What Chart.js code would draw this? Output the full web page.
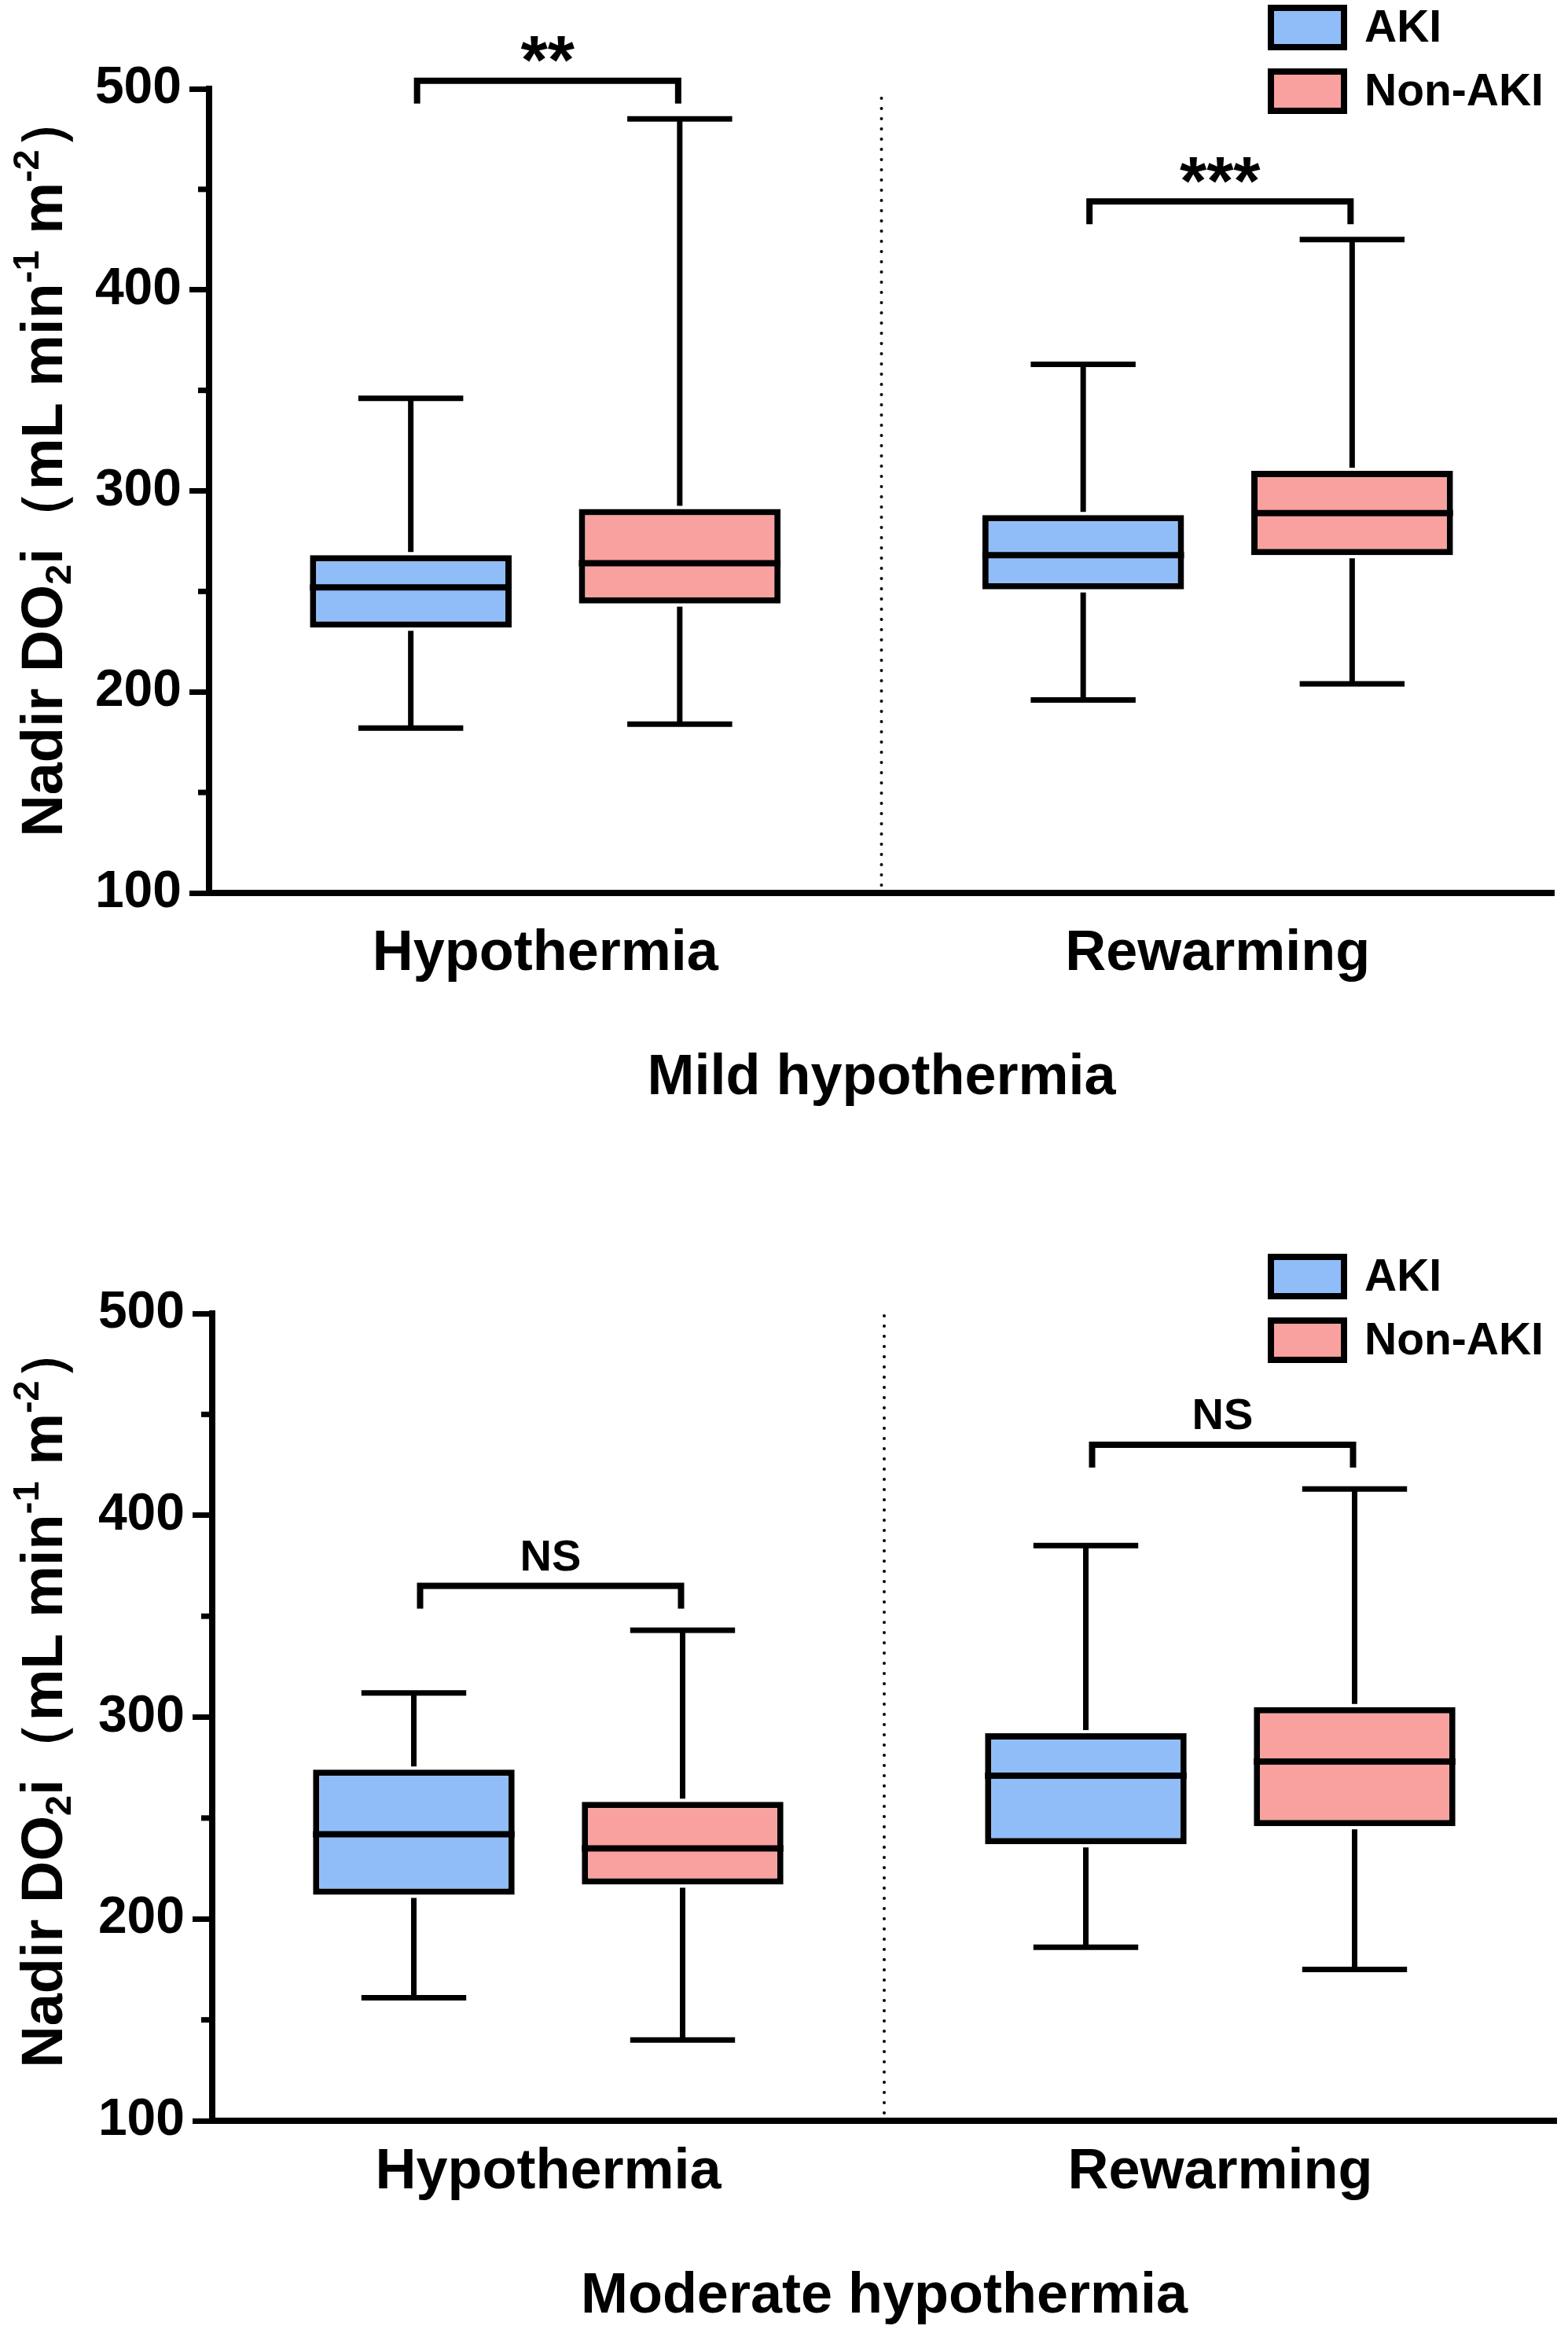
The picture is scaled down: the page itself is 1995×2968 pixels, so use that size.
<!DOCTYPE html>
<html>
<head>
<meta charset="utf-8">
<script src="https://cdn.jsdelivr.net/npm/chart.js@4.4.1/dist/chart.umd.min.js"></script>
<style>
html,body{margin:0;padding:0;background:#fff;}
.wrap{position:relative;width:1995px;height:1484px;}
canvas{display:block;}
</style>
</head>
<body>
<div class="wrap"><canvas id="c1" width="1995" height="1484"></canvas></div>
<div class="wrap"><canvas id="c2" width="1995" height="1484"></canvas></div>
<script>
// ---------------- data ----------------
const categories = ['Hypothermia', 'Rewarming'];
const seriesNames = ['AKI', 'Non-AKI'];
// five-number summaries per category: [min, Q1, median, Q3, max]
const mildAKI        = [[182, 232, 252, 268, 346], [196, 251, 268, 288, 363]];
const mildNonAKI     = [[184, 244, 264, 291, 485], [204, 268, 289, 310, 425]];
const moderateAKI    = [[161, 212, 242, 274, 312], [186, 237, 271, 292, 385]];
const moderateNonAKI = [[140, 217, 235, 258, 343], [175, 246, 278, 305, 413]];
// significance labels and bracket levels (in y units) per category
const mildSignif = ['**', '***'];
const mildBracketLevel = [504, 444];
const moderateSignif = ['NS', 'NS'];
const moderateBracketLevel = [365, 435];
// axis
const yTickValues = [100, 200, 300, 400, 500];
const yMinorTickValues = [150, 250, 350, 450];
// y-axis title as rich-text runs: [text, kind] (kind: '' normal, 'sub', 'sup')
const yTitleRuns = [['Nadir DO', ''], ['2', 'sub'], ['i', ''], ['（', ''], ['mL min', ''], ['-1', 'sup'], [' m', ''], ['-2', 'sup'], ['）', '']];
const panelTitles = ['Mild hypothermia', 'Moderate hypothermia'];

// ---------------- styles ----------------
const FONT = "'Liberation Sans', Arial, Helvetica, sans-serif";
const colAKI = '#90BDF8';
const colNon = '#F8A19F';

// ---------------- plugins ----------------
const boxPlugin = {
  id: 'boxWhisker',
  afterDatasetsDraw(chart) {
    const ctx = chart.ctx, y = chart.scales.y;
    ctx.save();
    ctx.strokeStyle = '#000';
    ctx.lineCap = 'butt';
    chart.data.datasets.forEach((ds, di) => {
      const meta = chart.getDatasetMeta(di);
      meta.data.forEach((bar, i) => {
        const s = ds.summary[i];
        const w = bar.width, cx = bar.x;
        const cap = w * 0.26;
        const pMin = y.getPixelForValue(s[0]);
        const pQ1 = y.getPixelForValue(s[1]);
        const pMed = y.getPixelForValue(s[2]);
        const pQ3 = y.getPixelForValue(s[3]);
        const pMax = y.getPixelForValue(s[4]);
        ctx.lineWidth = 7;
        ctx.beginPath();
        ctx.moveTo(cx, pQ3 - 4); ctx.lineTo(cx, pMax);
        ctx.moveTo(cx - cap, pMax); ctx.lineTo(cx + cap, pMax);
        ctx.moveTo(cx, pQ1 + 4); ctx.lineTo(cx, pMin);
        ctx.moveTo(cx - cap, pMin); ctx.lineTo(cx + cap, pMin);
        ctx.stroke();
        ctx.lineWidth = 8;
        ctx.beginPath();
        ctx.moveTo(cx - w / 2, pMed); ctx.lineTo(cx + w / 2, pMed);
        ctx.stroke();
      });
    });
    ctx.restore();
  }
};

const dividerPlugin = {
  id: 'divider',
  beforeDatasetsDraw(chart) {
    const ctx = chart.ctx, x = chart.scales.x, y = chart.scales.y;
    const px = (x.getPixelForValue(0) + x.getPixelForValue(1)) / 2;
    ctx.save();
    ctx.strokeStyle = '#000';
    ctx.lineWidth = 4;
    ctx.lineCap = 'round';
    ctx.setLineDash([0, 13]);
    ctx.beginPath();
    ctx.moveTo(px, y.bottom - 10);
    ctx.lineTo(px, y.top);
    ctx.stroke();
    ctx.restore();
  }
};

const minorTickPlugin = {
  id: 'minorTicks',
  afterDraw(chart) {
    const ctx = chart.ctx, y = chart.scales.y;
    ctx.save();
    ctx.strokeStyle = '#000';
    ctx.lineWidth = 7;
    yMinorTickValues.forEach(v => {
      const py = y.getPixelForValue(v);
      ctx.beginPath();
      ctx.moveTo(y.right - 14, py);
      ctx.lineTo(y.right, py);
      ctx.stroke();
    });
    ctx.restore();
  }
};

const yTitlePlugin = {
  id: 'yRichTitle',
  afterDraw(chart, args, opts) {
    const ctx = chart.ctx, y = chart.scales.y;
    const size = opts.size;
    const fontFor = k => 'bold ' + (k ? Math.round(size * 0.64) : size) + 'px ' + FONT;
    ctx.save();
    let total = 0;
    const widths = yTitleRuns.map(([t, k]) => { ctx.font = fontFor(k); const w = ctx.measureText(t).width; total += w; return w; });
    const cy = (y.top + y.bottom) / 2 + opts.shift;
    ctx.translate(opts.x + size * 0.3465, cy);
    ctx.rotate(-Math.PI / 2);
    ctx.fillStyle = '#000';
    ctx.textAlign = 'left';
    ctx.textBaseline = 'alphabetic';
    let px = -total / 2;
    yTitleRuns.forEach(([t, k], i) => {
      ctx.font = fontFor(k);
      const dy = k === 'sub' ? size * 0.16 : (k === 'sup' ? -size * 0.40 : 0);
      ctx.fillText(t, px, dy);
      px += widths[i];
    });
    ctx.restore();
  }
};

const signifPlugin = {
  id: 'signif',
  afterDraw(chart, args, opts) {
    const ctx = chart.ctx, y = chart.scales.y;
    const m0 = chart.getDatasetMeta(0), m1 = chart.getDatasetMeta(1);
    ctx.save();
    ctx.strokeStyle = '#000';
    ctx.fillStyle = '#000';
    ctx.lineWidth = 8;
    ctx.lineJoin = 'miter';
    ctx.lineCap = 'butt';
    opts.labels.forEach((lab, i) => {
      const x1 = m0.data[i].x + 8, x2 = m1.data[i].x - 2;
      const yb = y.getPixelForValue(opts.levels[i]);
      ctx.beginPath();
      ctx.moveTo(x1, yb + 29);
      ctx.lineTo(x1, yb);
      ctx.lineTo(x2, yb);
      ctx.lineTo(x2, yb + 29);
      ctx.stroke();
      const size = lab.indexOf('*') >= 0 ? opts.starSize : opts.textSize;
      ctx.font = 'bold ' + size + 'px ' + FONT;
      ctx.textAlign = 'center';
      ctx.textBaseline = 'alphabetic';
      const m = ctx.measureText(lab);
      const inkMid = (m.actualBoundingBoxAscent - m.actualBoundingBoxDescent) / 2;
      ctx.fillText(lab, (x1 + x2) / 2, yb - opts.gap + inkMid);
    });
    ctx.restore();
  }
};

const legendPlugin = {
  id: 'boxLegend',
  afterDraw(chart, args, opts) {
    const ctx = chart.ctx;
    ctx.save();
    chart.data.datasets.forEach((ds, i) => {
      const top = opts.top + i * opts.spacing;
      ctx.fillStyle = ds.backgroundColor;
      ctx.fillRect(opts.left, top, opts.boxW, opts.boxH);
      ctx.strokeStyle = '#000';
      ctx.lineWidth = 8;
      ctx.strokeRect(opts.left + 4, top + 4, opts.boxW - 8, opts.boxH - 8);
      ctx.fillStyle = '#000';
      ctx.font = 'bold 57px ' + FONT;
      ctx.textAlign = 'left';
      ctx.textBaseline = 'middle';
      ctx.fillText(ds.label, opts.left + opts.boxW + 22, top + opts.boxH / 2 + 2);
    });
    ctx.restore();
  }
};

function makeChart(canvasId, aki, nonAki, title, signif, levels, lay) {
  const datasets = [
    { label: seriesNames[0], data: aki.map(s => [s[1], s[3]]), summary: aki,
      backgroundColor: colAKI, borderColor: '#000', borderWidth: 8, borderSkipped: false,
      categoryPercentage: 0.8, barPercentage: 0.75 },
    { label: seriesNames[1], data: nonAki.map(s => [s[1], s[3]]), summary: nonAki,
      backgroundColor: colNon, borderColor: '#000', borderWidth: 8, borderSkipped: false,
      categoryPercentage: 0.8, barPercentage: 0.75 }
  ];
  return new Chart(document.getElementById(canvasId), {
    type: 'bar',
    data: { labels: categories, datasets },
    plugins: [dividerPlugin, boxPlugin, minorTickPlugin, yTitlePlugin, signifPlugin, legendPlugin],
    options: {
      responsive: false,
      devicePixelRatio: 1,
      animation: false,
      events: [],
      layout: { padding: { top: lay.top, right: lay.right, bottom: 0, left: 0 } },
      plugins: {
        legend: { display: false },
        tooltip: { enabled: false },
        title: { display: false },
        yRichTitle: { size: 74, x: 53, shift: lay.titleShift },
        signif: { labels: signif, levels: levels, starSize: 88, textSize: 56, gap: lay.gap },
        boxLegend: { left: 1613, top: lay.legendTop, boxW: 101, boxH: 58, spacing: 81 }
      },
      scales: {
        x: {
          type: 'category',
          offset: true,
          grid: { display: false, drawTicks: false },
          border: { display: true, color: '#000', width: 8 },
          ticks: { color: '#000', font: { family: FONT, size: 72, weight: 'bold' },
                   padding: lay.xPad, maxRotation: 0, autoSkip: false },
          title: { display: true, text: title, color: '#000',
                   font: { family: FONT, size: 72, weight: 'bold' },
                   padding: { top: 0, bottom: lay.titlePad } },
          afterFit(s) { s.height = 1484 - lay.bottomAxis; }
        },
        y: {
          min: 100, max: 500,
          grid: { display: true, drawOnChartArea: false, drawTicks: true, tickLength: 25,
                  tickWidth: 7, tickColor: '#000', color: '#000' },
          border: { display: true, color: '#000', width: 8 },
          ticks: { color: '#000', font: { family: FONT, size: 66, weight: 'bold' }, padding: 10 },
          afterBuildTicks(s) { s.ticks = yTickValues.map(v => ({ value: v })); },
          title: { display: false },
          afterFit(s) { s.width = lay.left; }
        }
      }
    }
  });
}

makeChart('c1', mildAKI, mildNonAKI, panelTitles[0], mildSignif, mildBracketLevel,
  { top: 113, right: 18, left: 266, bottomAxis: 1136, xPad: 35, titlePad: 69, gap: 40, legendTop: 6, titleShift: -34 });
makeChart('c2', moderateAKI, moderateNonAKI, panelTitles[1], moderateSignif, moderateBracketLevel,
  { top: 187, right: 15, left: 270, bottomAxis: 1214, xPad: 23, titlePad: 3, gap: 39, legendTop: 111, titleShift: -28 });
</script>
</body>
</html>
